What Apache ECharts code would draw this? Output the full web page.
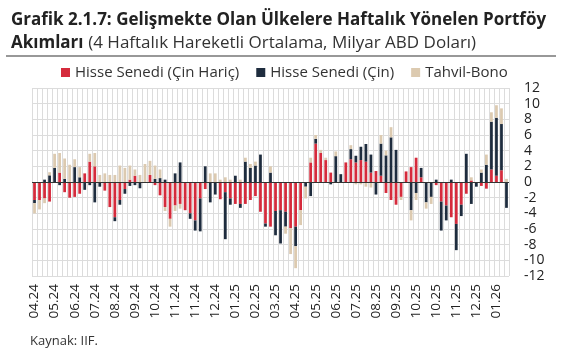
<!DOCTYPE html>
<html>
<head>
<meta charset="utf-8">
<script src="https://cdn.jsdelivr.net/npm/echarts@6/dist/echarts.min.js"></script>
<style>
  html, body { margin: 0; padding: 0; background: #fff; }
  #chart { width: 563px; height: 352px; }
</style>
</head>
<body>
<div id="chart"></div>
<script>
// tick labels, one every 4 weeks
const tickLabels = ['04.24', '05.24', '06.24', '07.24', '08.24', '09.24', '10.24', '11.24',
  '11.24', '12.24', '01.25', '02.25', '03.25', '04.25', '05.25', '06.25', '07.25', '08.25',
  '09.25', '10.25', '10.25', '11.25', '12.25', '01.26']

// weekly values, billion USD (4-week moving average)
const hisseCinHaric = [
  -2.3, -2.3, -2.1, -2.5, 0, 1.2, -1.3, -2.0, -1.9, -1.5,
  1.1, 2.6, 2.0, 0, -1.1, -3.2, -4.5, -2.3, -0.9, 0.3,
  0.8, 0, 0, 0.9, -0.4, -1.7, -3.2, -4.7, -3.0, -2.8,
  -3.6, -4.0, -4.9, -2.1, -0.9, 0, 0, -2.2, -1.3, -2.1,
  -2.8, -2.8, -2.8, -2.3, -1.8, -3.8, -5.3, -5.7, -3.7, -3.6,
  -3.8, -5.9, -5.7, -3.6, 0, 2.5, 4.9, 3.7, 2.8, 1.2,
  0, 0, 2.5, 2.9, 2.5, 2.8, 2.6, 1.2, 1.4, 0.8,
  -1.4, -2.3, -2.9, -1.9, 1.35, 1.9, 3.1, 0.6, 0, 0,
  -0.4, -2.5, -3.0, -4.5, -5.35, -2.9, -1.5, 0.2, 0, -0.5,
  -0.85, 1.6, 0.8, 1.5, 0
]
const hisseCin = [
  -0.4, 0, 0.3, 0.85, 1.8, -0.4, 0.4, 0, 1.9, 0.6,
  -1.0, -0.4, -2.6, -0.6, 0, 0, -0.5, -0.6, -0.6, -0.5,
  -0.4, -0.8, 0, 0, 0.4, 0.5, 0.3, 0, 1.1, 2.5,
  0, -0.7, -1.3, -4.2, 2.0, -2.6, -1.6, 0, -6.0, -0.8,
  0.8, -0.5, 2.6, 1.8, 2.1, 3.5, -0.4, 1.2, -3.1, -4.25,
  -1.9, 0, -2.5, 0, -0.6, -1.8, 0.6, 0, 0, -0.3,
  3.3, 1.0, 0, 1.3, 0.85, 1.7, 2.25, 2.3, -1.6, 4.1,
  3.4, 5.7, 4.1, 0, 0, -3.6, -1.4, 1.2, -2.6, -1.9,
  0.3, -3.7, -1.9, 0.3, -3.35, -1.45, 3.6, -2.8, -0.6, 1.2,
  2.2, 6.1, 7.4, 5.9, -3.3
]
const tahvilBono = [
  -1.3, -1.2, -0.6, 0.4, 1.8, 2.5, 2.6, 2.2, 1.0, 1.3,
  0, 1.0, 1.7, 0.9, 1.1, 0.9, 0.9, 2.1, 1.8, 1.8,
  0.8, 0.9, 2.3, 1.8, 1.7, 1.1, -0.5, -1.0, -0.7, -0.6,
  0, 0, 0, 0, 0, 1.1, 1.1, 0.3, 0.6, 0.3,
  0, 0.3, 0.5, 0.5, 0.5, 0, 0, 0.8, 0, 0,
  -0.9, -3.3, -2.8, -1.9, -1.5, 0.6, 0.5, 0.4, 0.3, 0,
  0.6, 0, 0, 0.5, -0.3, -0.3, -0.6, -0.7, 0, 1.1,
  0.6, 1.3, 0, -0.4, 0, -1.3, -0.9, 0, -0.8, -0.9,
  0, 0, 0, 0, 0, 0, 0, 0.4, 0, 0.4,
  1.3, 1.2, 1.6, 2.0, 0.4
]

const weeks = hisseCinHaric.map((v, i) => i % 4 === 0 ? tickLabels[i / 4] : '')

const font = 'Open Sans'
const chart = echarts.init(document.getElementById('chart'))

chart.setOption({
  animation: false,
  textStyle: { fontFamily: font },
  title: {
    left: 6,
    top: 4,
    text: '{b|Grafik 2.1.7: Gelişmekte Olan Ülkelere Haftalık Yönelen Portföy}\n{b|Akımları} {n|(4 Haftalık Hareketli Ortalama, Milyar ABD Doları)}',
    textStyle: {
      rich: {
        b: { fontFamily: font, fontSize: 17, fontWeight: 'bold', color: '#222', lineHeight: 23 },
        n: { fontFamily: font, fontSize: 17, fontWeight: 'normal', color: '#333', lineHeight: 23 }
      }
    }
  },
  legend: {
    top: 60,
    left: 56,
    icon: 'rect',
    itemWidth: 9,
    itemHeight: 9,
    itemGap: 17,
    textStyle: { fontFamily: font, fontSize: 15, color: '#333' },
    data: ['Hisse Senedi (Çin Hariç)', 'Hisse Senedi (Çin)', 'Tahvil-Bono']
  },
  graphic: [
    {
      type: 'line',
      shape: { x1: 6, y1: 56, x2: 556, y2: 56 },
      style: { stroke: '#333', lineWidth: 1.2 }
    },
    {
      type: 'text',
      left: 30,
      top: 335,
      style: { text: 'Kaynak: IIF.', fontFamily: font, fontSize: 13, fill: '#333' }
    }
  ],
  grid: { left: 32, right: 54, top: 88, bottom: 76 },
  xAxis: {
    type: 'category',
    data: weeks,
    axisLine: { show: false, onZero: false },
    axisTick: { show: false },
    splitLine: { show: true, interval: 0, lineStyle: { color: '#dcdcdc', width: 1 } },
    axisLabel: {
      interval: 0,
      rotate: 90,
      margin: 8,
      fontFamily: font,
      fontSize: 13.5,
      color: '#222'
    }
  },
  yAxis: {
    type: 'value',
    position: 'right',
    min: -12,
    max: 12,
    interval: 2,
    axisLine: { show: false },
    axisTick: { show: false },
    splitLine: { lineStyle: { color: '#dcdcdc', width: 1 } },
    axisLabel: { margin: 15, fontFamily: font, fontSize: 14, color: '#222' }
  },
  series: [
    {
      name: 'Hisse Senedi (Çin Hariç)',
      type: 'bar',
      stack: 'akim',
      barWidth: '55%',
      data: hisseCinHaric,
      itemStyle: { color: '#d52b3c' },
      markLine: {
        silent: true,
        symbol: 'none',
        label: { show: false },
        lineStyle: { color: '#333', width: 1, type: 'solid' },
        data: [{ yAxis: 0 }]
      }
    },
    {
      name: 'Hisse Senedi (Çin)',
      type: 'bar',
      stack: 'akim',
      data: hisseCin,
      itemStyle: { color: '#1e2c3e' }
    },
    {
      name: 'Tahvil-Bono',
      type: 'bar',
      stack: 'akim',
      data: tahvilBono,
      itemStyle: { color: '#dccab0' }
    }
  ]
})
</script>
</body>
</html>
